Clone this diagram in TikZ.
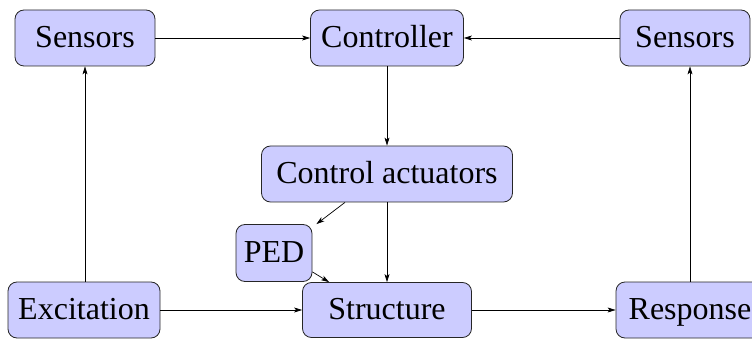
\documentclass[tikz,border=0pt]{standalone}
\usepackage{fontspec}
\setmainfont{Liberation Serif}
\usetikzlibrary{arrows.meta}
\begin{document}
\begin{tikzpicture}[x=1pt,y=-1pt,
  blk/.style={draw=black!85, line width=0.8pt, fill=blue!20, rounded corners=9pt,
    inner sep=0pt, minimum height=56pt, text height=22pt, text depth=3pt, align=center,
    font=\fontsize{32}{36}\selectfont},
  conn/.style={line width=0.7pt, -{Stealth[length=8pt,width=5pt,inset=2pt]}}]
\useasboundingbox (0,0) rectangle (752,339);
\node[blk, minimum width=140pt] (s1) at (85,38) {Sensors};
\node[blk, minimum width=153pt] (ctrl) at (387,38) {Controller};
\node[blk, minimum width=130pt] (s2) at (685,38) {Sensors};
\node[blk, minimum width=251pt] (act) at (387,174) {Control actuators};
\node[blk, minimum width=76pt, minimum height=57pt] (ped) at (274,253) {PED};
\node[blk, minimum width=169pt, minimum height=55pt] (str) at (387,310) {Structure};
\node[blk, minimum width=152pt] (exc) at (84,310) {Excitation};
\node[blk, minimum width=148pt] (resp) at (690,310) {Response};
\draw[conn] (s1) -- (ctrl);
\draw[conn] (s2) -- (ctrl);
\draw[conn] (ctrl) -- (act);
\draw[conn] (act) -- (str);
\draw[conn] ([xshift=-42pt]act.south) -- ([xshift=4pt]ped.north east);
\draw[conn] ([yshift=10pt]ped.south east) -- ([xshift=27pt]str.north west);
\draw[conn] (exc.north -| s1.south) -- (s1.south);
\draw[conn] (exc) -- (str);
\draw[conn] (str) -- (resp);
\draw[conn] (resp.north) -- (resp.north |- s2.south);
\end{tikzpicture}
\end{document}
